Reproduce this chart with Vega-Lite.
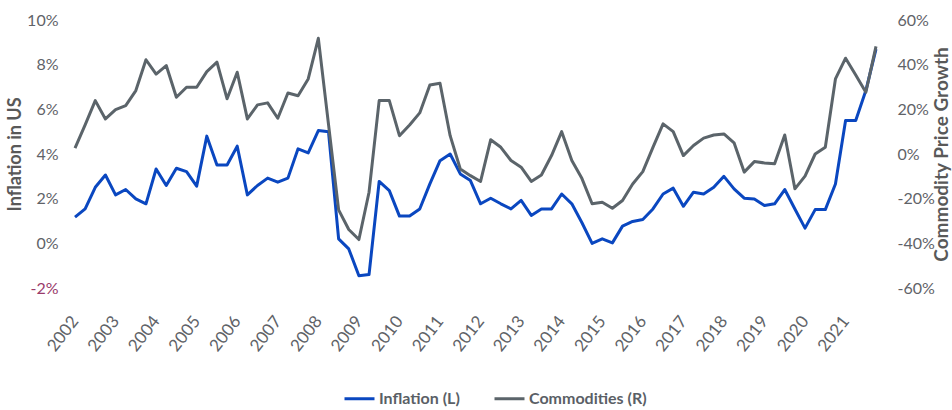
{
  "$schema": "https://vega.github.io/schema/vega-lite/v6.json",
  "width": 801,
  "height": 268,
  "autosize": {"type": "none"},
  "padding": {"left": 75, "top": 20, "right": 76, "bottom": 122},
  "background": "white",
  "config": {
    "view": {"stroke": null},
    "font": "Lato",
    "axis": {"domain": false, "ticks": false, "tickSize": 0, "grid": false, "labelFont": "Lato", "labelFontSize": 16, "labelColor": "#5f6368", "titleFont": "Lato", "titleColor": "#595959"},
    "legend": {"labelFont": "Lato", "labelFontSize": 16, "labelFontWeight": "bold", "labelColor": "#5a5f66"}
  },
  "data": {"values": [
    {"q":"2002Q1","inflation":1.17,"commodities":2.6},
    {"q":"2002Q2","inflation":1.54,"commodities":13},
    {"q":"2002Q3","inflation":2.51,"commodities":23.9},
    {"q":"2002Q4","inflation":3.06,"commodities":15.7},
    {"q":"2003Q1","inflation":2.17,"commodities":19.9},
    {"q":"2003Q2","inflation":2.41,"commodities":21.7},
    {"q":"2003Q3","inflation":1.99,"commodities":28.4},
    {"q":"2003Q4","inflation":1.77,"commodities":42.2},
    {"q":"2004Q1","inflation":3.33,"commodities":35.8},
    {"q":"2004Q2","inflation":2.59,"commodities":39.6},
    {"q":"2004Q3","inflation":3.36,"commodities":25.4},
    {"q":"2004Q4","inflation":3.21,"commodities":29.9},
    {"q":"2005Q1","inflation":2.56,"commodities":29.9},
    {"q":"2005Q2","inflation":4.8,"commodities":36.9},
    {"q":"2005Q3","inflation":3.51,"commodities":41.1},
    {"q":"2005Q4","inflation":3.51,"commodities":24.7},
    {"q":"2006Q1","inflation":4.35,"commodities":36.6},
    {"q":"2006Q2","inflation":2.17,"commodities":15.7},
    {"q":"2006Q3","inflation":2.59,"commodities":22},
    {"q":"2006Q4","inflation":2.92,"commodities":22.9},
    {"q":"2007Q1","inflation":2.74,"commodities":16},
    {"q":"2007Q2","inflation":2.92,"commodities":27.3},
    {"q":"2007Q3","inflation":4.23,"commodities":26.1},
    {"q":"2007Q4","inflation":4.05,"commodities":33.6},
    {"q":"2008Q1","inflation":5.05,"commodities":51.8},
    {"q":"2008Q2","inflation":5.0,"commodities":13.4},
    {"q":"2008Q3","inflation":0.2,"commodities":-25},
    {"q":"2008Q4","inflation":-0.25,"commodities":-33.8},
    {"q":"2009Q1","inflation":-1.45,"commodities":-38.3},
    {"q":"2009Q2","inflation":-1.4,"commodities":-17.1},
    {"q":"2009Q3","inflation":2.77,"commodities":23.9},
    {"q":"2009Q4","inflation":2.36,"commodities":23.9},
    {"q":"2010Q1","inflation":1.22,"commodities":8.2},
    {"q":"2010Q2","inflation":1.22,"commodities":13},
    {"q":"2010Q3","inflation":1.54,"commodities":18.4},
    {"q":"2010Q4","inflation":2.66,"commodities":30.9},
    {"q":"2011Q1","inflation":3.7,"commodities":31.7},
    {"q":"2011Q2","inflation":4.0,"commodities":8.2},
    {"q":"2011Q3","inflation":3.11,"commodities":-6.7},
    {"q":"2011Q4","inflation":2.81,"commodities":-9.7},
    {"q":"2012Q1","inflation":1.77,"commodities":-12.3},
    {"q":"2012Q2","inflation":2.02,"commodities":6.4},
    {"q":"2012Q3","inflation":1.77,"commodities":3},
    {"q":"2012Q4","inflation":1.54,"commodities":-2.9},
    {"q":"2013Q1","inflation":1.92,"commodities":-5.9},
    {"q":"2013Q2","inflation":1.25,"commodities":-12.3},
    {"q":"2013Q3","inflation":1.54,"commodities":-9.4},
    {"q":"2013Q4","inflation":1.54,"commodities":-0.7},
    {"q":"2014Q1","inflation":2.21,"commodities":10},
    {"q":"2014Q2","inflation":1.77,"commodities":-2.9},
    {"q":"2014Q3","inflation":0.92,"commodities":-11},
    {"q":"2014Q4","inflation":0.0,"commodities":-22.3},
    {"q":"2015Q1","inflation":0.2,"commodities":-21.6},
    {"q":"2015Q2","inflation":0.02,"commodities":-24.3},
    {"q":"2015Q3","inflation":0.77,"commodities":-20.8},
    {"q":"2015Q4","inflation":0.98,"commodities":-13.4},
    {"q":"2016Q1","inflation":1.07,"commodities":-7.9},
    {"q":"2016Q2","inflation":1.54,"commodities":3},
    {"q":"2016Q3","inflation":2.21,"commodities":13.5},
    {"q":"2016Q4","inflation":2.47,"commodities":10},
    {"q":"2017Q1","inflation":1.66,"commodities":-0.7},
    {"q":"2017Q2","inflation":2.29,"commodities":3.8},
    {"q":"2017Q3","inflation":2.21,"commodities":7.1},
    {"q":"2017Q4","inflation":2.51,"commodities":8.5},
    {"q":"2018Q1","inflation":3.0,"commodities":9},
    {"q":"2018Q2","inflation":2.44,"commodities":5},
    {"q":"2018Q3","inflation":2.02,"commodities":-8.1},
    {"q":"2018Q4","inflation":1.99,"commodities":-3.4},
    {"q":"2019Q1","inflation":1.69,"commodities":-4},
    {"q":"2019Q2","inflation":1.77,"commodities":-4.4},
    {"q":"2019Q3","inflation":2.41,"commodities":8.5},
    {"q":"2019Q4","inflation":1.54,"commodities":-15.6},
    {"q":"2020Q1","inflation":0.68,"commodities":-9.9},
    {"q":"2020Q2","inflation":1.51,"commodities":0},
    {"q":"2020Q3","inflation":1.51,"commodities":3},
    {"q":"2020Q4","inflation":2.66,"commodities":33.6},
    {"q":"2021Q1","inflation":5.5,"commodities":42.9},
    {"q":"2021Q2","inflation":5.5,"commodities":35.4},
    {"q":"2021Q3","inflation":6.84,"commodities":27.7},
    {"q":"2021Q4","inflation":8.7,"commodities":48.2}
  ]},
  "encoding": {
    "x": {
      "field": "q", "type": "ordinal", "sort": null,
      "scale": {"type": "point", "padding": 0},
      "axis": {
        "title": null,
        "labelExpr": "indexof(datum.value, 'Q1') > 0 ? slice(datum.value, 0, 4) : ''",
        "labelAngle": -52, "labelAlign": "right", "labelBaseline": "middle",
        "labelPadding": 30, "labelOverlap": false, "labelFontSize": 17, "labelColor": "#5f6368"
      }
    }
  },
  "layer": [
    {
      "mark": {"type": "line", "strokeWidth": 3, "strokeJoin": "round"},
      "encoding": {
        "y": {
          "field": "inflation", "type": "quantitative",
          "scale": {"domain": [-2, 10], "nice": false, "zero": false},
          "axis": {
            "orient": "left", "title": "Inflation in US", "values": [-2, 0, 2, 4, 6, 8, 10],
            "labelExpr": "datum.value + '%'", "labelPadding": 17,
            "labelColor": {"expr": "datum.value < 0 ? '#9a3b6b' : '#5f6368'"},
            "titleFontSize": 18, "titleFontWeight": "bold", "titleAngle": -90,
            "titleX": -60, "titleY": 134, "titleAlign": "center", "titleBaseline": "middle"
          }
        },
        "color": {
          "datum": "Inflation (L)", "type": "nominal",
          "scale": {"domain": ["Inflation (L)", "Commodities (R)"], "range": ["#0a47c0", "#5b646a"]},
          "legend": {
            "title": null, "orient": "none", "direction": "horizontal",
            "legendX": 268, "legendY": 362,
            "symbolType": "stroke", "symbolSize": 900, "symbolStrokeWidth": 3,
            "labelOffset": 3, "columnPadding": 28
          }
        }
      }
    },
    {
      "mark": {"type": "line", "strokeWidth": 3, "strokeJoin": "round"},
      "encoding": {
        "y": {
          "field": "commodities", "type": "quantitative",
          "scale": {"domain": [-60, 60], "nice": false, "zero": false},
          "axis": {
            "orient": "right", "title": "Commodity Price Growth", "values": [-60, -40, -20, 0, 20, 40, 60],
            "labelExpr": "datum.value + '%'", "labelPadding": 21,
            "titleFontSize": 19, "titleFontWeight": "bold", "titleAngle": -90,
            "titleX": 65, "titleY": 134, "titleAlign": "center", "titleBaseline": "middle"
          }
        },
        "color": {"datum": "Commodities (R)", "type": "nominal"}
      }
    }
  ],
  "resolve": {"scale": {"y": "independent"}}
}
